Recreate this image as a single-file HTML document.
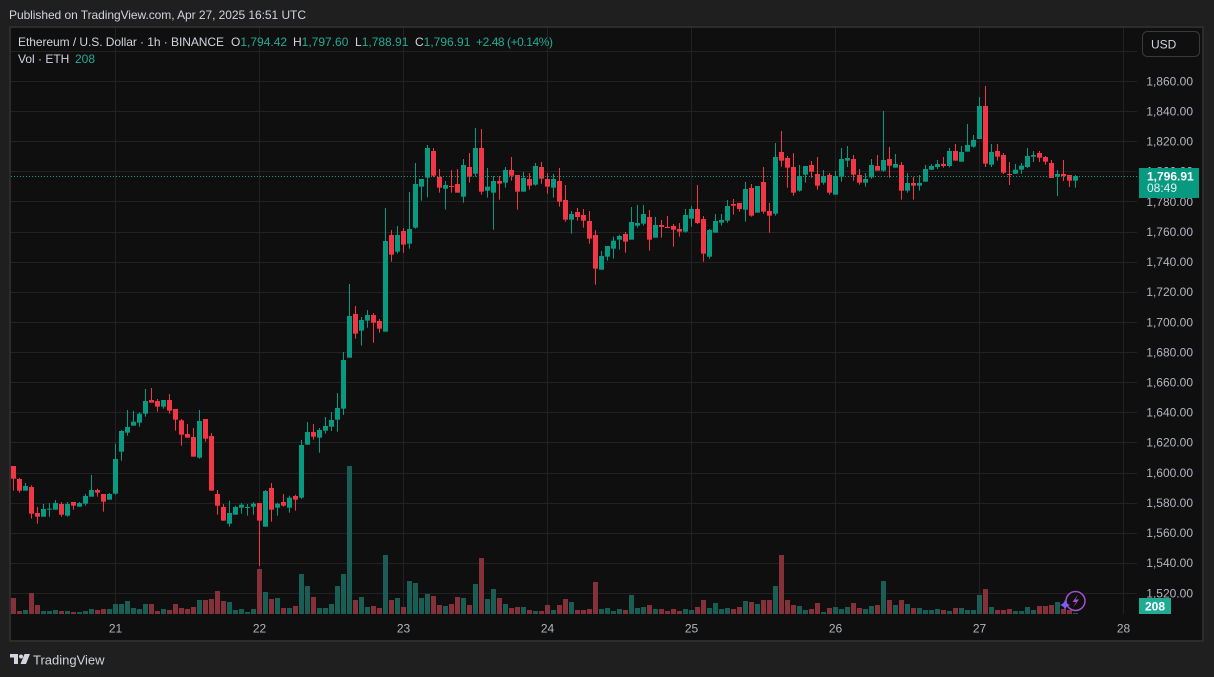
<!DOCTYPE html>
<html><head><meta charset="utf-8">
<style>
html,body{margin:0;padding:0;background:#1f1f1f;width:1214px;height:677px;overflow:hidden;}
svg{position:absolute;left:0;top:0;}
text{font-family:"Liberation Sans",Arial,sans-serif;}
</style></head><body>
<svg id="c" width="1214" height="677" viewBox="0 0 1214 677" xmlns="http://www.w3.org/2000/svg">
<rect x="0" y="0" width="1214" height="677" fill="#1f1f1f"/>
<rect x="10" y="27" width="1193" height="614" fill="#0f0f0f" stroke="#2c2c2c" stroke-width="2"/>
<g id="grid"></g>
<g id="vol"></g>
<g id="candles"></g>
<line x1="11" x2="1137" y1="176.5" y2="176.5" stroke="#089981" stroke-width="1" stroke-dasharray="1 2"/>
<g id="plabels" font-size="12" fill="#b2b5be" text-anchor="end"></g>
<g id="tlabels" font-size="12" fill="#b2b5be" text-anchor="middle"></g>

<!-- header -->
<text x="9" y="19" font-size="12" fill="#d1d4dc" textLength="297" lengthAdjust="spacing">Published on TradingView.com, Apr 27, 2025 16:51 UTC</text>

<!-- legend -->
<g font-size="12">
<text x="18" y="46" fill="#d1d4dc" textLength="206" lengthAdjust="spacing">Ethereum / U.S. Dollar · 1h · BINANCE</text>
<text x="231" y="46"><tspan fill="#d1d4dc">O</tspan><tspan fill="#22ab94">1,794.42</tspan></text>
<text x="293" y="46"><tspan fill="#d1d4dc">H</tspan><tspan fill="#22ab94">1,797.60</tspan></text>
<text x="355" y="46"><tspan fill="#d1d4dc">L</tspan><tspan fill="#22ab94">1,788.91</tspan></text>
<text x="415" y="46"><tspan fill="#d1d4dc">C</tspan><tspan fill="#22ab94">1,796.91</tspan></text>
<text x="476" y="46" fill="#22ab94" textLength="77" lengthAdjust="spacing">+2.48 (+0.14%)</text>
<text x="18" y="63" fill="#d1d4dc">Vol · ETH</text>
<text x="75" y="63" fill="#22ab94">208</text>
</g>

<!-- USD box -->
<rect x="1142.5" y="31.5" width="57" height="25" rx="5" ry="5" fill="#0f0f0f" stroke="#3a3a3a" stroke-width="1"/>
<text x="1151" y="48.5" font-size="12" fill="#d1d4dc">USD</text>

<!-- last price box -->
<rect id="pbox" x="1139" y="168" width="60" height="30" fill="#089981"/>
<text x="1147" y="180.5" font-size="12" font-weight="bold" fill="#ffffff">1,796.91</text>
<text x="1147" y="192" font-size="12" fill="#e3f3ef">08:49</text>

<!-- volume box -->
<rect x="1139" y="598" width="32" height="16" fill="#22ab94"/>
<text x="1155" y="610.5" font-size="12" font-weight="bold" fill="#ffffff" text-anchor="middle">208</text>

<!-- icons bottom right -->
<circle cx="1075.5" cy="601" r="9.5" fill="#0f0f0f" stroke="#a64fd0" stroke-width="1.5"/>
<path d="M1078,594.5 L1072.5,602 L1076,602 L1073,607.5 L1079,599.5 L1075.5,599.5 Z" fill="#a64fd0"/>
<path d="M1065,599.5 Q1065.8,604.2 1070.5,605 Q1065.8,605.8 1065,610.5 Q1064.2,605.8 1059.5,605 Q1064.2,604.2 1065,599.5 Z" fill="#7b5cf5"/>

<!-- footer -->
<g fill="#d1d4dc">
<rect x="10" y="654" width="8" height="3.5"/>
<rect x="14" y="654" width="4" height="10"/>
<circle cx="21" cy="656.5" r="2"/>
<polygon points="24.5,654 30,654 26,664 20.5,664"/>
</g>
<text x="33" y="664.5" font-size="13" fill="#d1d4dc">TradingView</text>
</svg>
<script>
(function(){
const NS="http://www.w3.org/2000/svg";
function el(tag,attrs,parent){const e=document.createElementNS(NS,tag);for(const k in attrs)e.setAttribute(k,attrs[k]);parent.appendChild(e);return e;}
const grid=document.getElementById('grid');
const plabels=document.getElementById('plabels');
const tlabels=document.getElementById('tlabels');
function py(p){return 81+(1860-p)*1.506;}
for(let p=1880;p>=1520;p-=20){
  const y=Math.round(py(p))+0.5;
  el('line',{x1:11,x2:1137,y1:y,y2:y,stroke:'#222222','stroke-width':1},grid);
  const t=el('text',{x:1193,y:(py(p)+4.3).toFixed(1)},plabels);
  t.textContent='1,'+String(p-1000)+'.00';
}
const days=[[115,'21'],[259,'22'],[403,'23'],[547,'24'],[691,'25'],[835,'26'],[979,'27'],[1123,'28']];
days.forEach(d=>{
  el('line',{x1:d[0]+0.5,x2:d[0]+0.5,y1:28,y2:614,stroke:'#222222','stroke-width':1},grid);
  const t=el('text',{x:d[0]+0.5,y:632.5},tlabels);t.textContent=d[1];
});

// volume
const vstr="R16 R3 G4 R21 R9 G3 G3 G4 R3 G3 R2 G2 G3 G5 R4 R5 G5 G10 G10 G13 G6 G5 G10 R10 R3 G5 R4 R10 R6 R5 R7 G14 R14 R15 R23 R13 G12 G4 G5 G2 G5 R45 G22 R15 G16 R6 G6 R8 G40 G28 R17 G6 G6 G10 G28 G40 G148 R14 G17 G7 R8 R6 G59 R14 G16 R7 G33 G31 G16 G20 R18 R9 G8 R10 R17 G16 R9 G30 R56 G15 G25 R16 G10 R6 R7 G7 R4 G3 R3 R9 G4 R9 R15 G12 R4 R4 R5 R32 G5 G6 G3 G5 R4 G19 G6 G7 R9 G5 R5 R3 R5 R3 G5 G4 R7 R14 G6 G11 G5 G6 R5 R7 G13 R12 G10 R14 R14 G28 R59 R14 R9 G8 G4 R5 R11 G2 R6 G7 G5 G7 R11 R6 G5 G8 R9 G33 R14 G9 R14 G10 R6 G6 G4 G4 G5 R4 G3 R6 G6 G4 G4 G19 R25 G7 R4 R4 R5 G3 G3 G7 G4 R8 R8 R9 G12 R5 R4 G1";
const vol=document.getElementById('vol');
vstr.split(' ').forEach((s,i)=>{
  const c=s[0]==='G'?'#1a5d55':'#85313a';
  const h=parseFloat(s.slice(1));
  el('rect',{x:11+6*i,y:614-h,width:5,height:h,fill:c},vol);
});

// candles: groups [originY, startIndex, data]
const groups=[
[380,0,"R 258 296 258 332|R 297 332 294 338|G 332 318 309 332|R 321 401 316 416|R 399 410 381 431|G 410 387 372 410|G 389 386 369 410|G 389 369 360 389|R 372 404 366 410|G 407 372 366 410|R 366 377 366 389|G 380 369 366 380|G 371 348 342 377|G 350 330 285 350|R 330 338 326 350|R 342 365 342 395|G 359 342 339 359|G 341 237 191 344|G 215 153 150 242|G 158 141 90 167|G 137 125 93 137|G 128 101 97 140|G 101 63 27 110|R 60 68 24 68|R 63 80 57 95|G 80 60 60 86|R 60 92 42 101|R 87 119 87 152|R 121 164 117 197|R 162 173 132 173|R 171 230 144 230|G 233 123 90 236|R 117 176 117 185|R 168 332 159 332|R 342 377 330 404|R 381 422 372 422|G 431 399 362 440|G 404 381 377 404|G 383 374 369 401|G 383 381 372 407|G 380 371 366 404"],
[130,41,"R 1119 1172 1119 1308|G 1190 1083 1080 1190|R 1074 1139 1059 1175|G 1133 1121 1118 1157|R 1116 1127 1092 1130|G 1133 1103 1097 1148|R 1098 1109 1094 1142|G 1103 945 930 1107|G 944 906 876 944|R 906 920 882 929|G 923 900 894 968|G 902 888 861 911|G 890 870 846 903|G 869 834 789 905|G 836 690 666 855|G 683 558 462 683|R 552 611 528 626|G 602 570 561 647|G 572 555 540 593|R 555 578 549 638|R 573 596 567 608|G 605 333 234 605|R 315 374 300 395|G 365 315 288 371|R 303 344 294 368|G 341 297 186 356|G 293 162 99 296"],
[120,68,"G 200 177 177 242|G 173 84 75 232|R 93 167 84 172|R 171 203 147 218|G 206 195 183 269|R 198 201 150 218|R 192 218 147 218|G 230 135 117 248|R 141 170 99 188|G 161 84 24 170|R 84 215 27 224|G 212 200 144 233|G 218 183 168 329|R 183 191 168 239|G 188 150 141 203|R 150 167 111 182|R 165 215 165 269|G 215 174 156 215|R 177 197 159 209|G 194 138 129 197|R 141 176 126 191|R 177 200 159 221|G 203 177 162 233|R 183 245 144 260|R 240 299 195 305|G 299 282 273 341|R 276 291 264 302|R 285 302 267 323|R 303 356 273 371|R 345 446 330 494|G 449 408 393 449|G 410 378 378 422|G 386 362 350 416|G 359 348 344 389|R 342 365 336 398|G 359 306 261 359|G 317 309 255 323|G 311 282 255 317|R 291 359 270 392|G 353 315 291 353|R 315 321 300 353|R 321 323 288 323|R 318 329 312 380|R 327 335 309 350|G 335 285 267 338|G 296 267 258 320"],
[100,114,"R 327 369 255 372|R 357 461 348 485|G 470 390 387 476|G 398 363 342 398|G 368 360 342 377|G 362 318 300 368|R 312 317 297 344|R 309 327 309 335|G 329 267 246 365|R 264 347 252 350|G 338 258 258 338|R 246 335 201 341|R 333 347 309 398|G 341 171 129 347|R 156 182 93 200|R 174 203 168 263|R 201 278 159 287|G 272 228 195 275|G 224 198 198 248|R 195 215 183 233|R 222 257 171 269|G 248 228 210 254|R 225 278 219 284|G 284 228 213 284|G 230 177 144 245|G 182 174 138 201|R 177 224 165 242|R 225 248 207 254|G 248 237 219 260|G 232 195 177 236|R 198 212 165 212|G 212 180 33 215|R 177 197 141 233|G 203 192 162 203"],
[80,148,"R 255 332 246 359|G 332 309 279 338|R 309 317 290 359|G 317 309 285 332|G 305 267 255 305|G 269 258 252 270|G 261 252 240 267|R 252 258 231 263|G 258 213 204 262|R 213 242 192 242|G 245 216 198 245|G 215 195 132 215|G 200 180 165 203|G 177 78 51 177|R 78 251 18 261|G 254 216 192 261|R 213 230 192 242|R 225 278 219 282|R 282 285 246 315|G 281 269 252 282|G 269 257 249 282|G 261 228 204 264|G 230 225 213 246|R 219 233 213 246|R 231 245 228 254|R 249 294 240 294|G 290 282 270 348|R 282 288 240 303|R 285 302 285 321|G 302 288 285 323"]
];
const cg=document.getElementById('candles');
groups.forEach(g=>{
  const oy=g[0];let i=g[1];
  g[2].split('|').forEach(s=>{
    const a=s.trim().split(/\s+/);
    const col=a[0]==='G'?'#089981':'#f23645';
    const o=oy+parseFloat(a[1])/3, c=oy+parseFloat(a[2])/3, h=oy+parseFloat(a[3])/3, l=oy+parseFloat(a[4])/3;
    const top=Math.min(o,c), bh=Math.max(1,Math.abs(o-c));
    const wt=Math.min(h,top), wb=Math.max(l,top+bh);
    el('rect',{x:13+6*i,y:wt.toFixed(2),width:1,height:(wb-wt).toFixed(2),fill:col},cg);
    el('rect',{x:11+6*i,y:top.toFixed(2),width:5,height:bh.toFixed(2),fill:col},cg);
    i++;
  });
});
// keep price box & labels on top of price labels
const svg=document.getElementById('c');
})();
</script>
</body></html>
